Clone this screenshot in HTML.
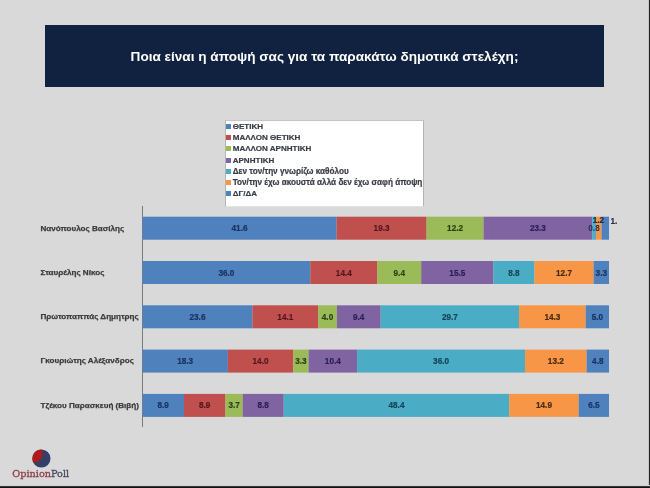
<!DOCTYPE html>
<html><head><meta charset="utf-8"><style>
*{margin:0;padding:0;box-sizing:border-box}
html,body{width:650px;height:488px;overflow:hidden;background:#D9D9D9}
body{position:relative;will-change:transform;font-family:"Liberation Sans","Noto Sans CJK SC",sans-serif}
.title{position:absolute;left:45px;top:25px;width:559px;height:62px;background:#10223F}
.title span{position:absolute;left:0;right:0;top:0;text-align:center;color:#fff;font-weight:bold;font-size:13.58px;line-height:15px;top:23.6px;white-space:nowrap}
.legend{position:absolute;left:225px;top:120px;width:199px;height:87px;background:#fff;border:1px solid #B4B4B4;border-bottom-color:#E4E4E4;border-top-color:#C4C4C4}
.li{position:absolute;left:0;height:11px;font-size:8.05px;font-weight:bold;color:#383C46;-webkit-text-stroke:0.2px #383C46;white-space:nowrap;line-height:11px}
.li i{position:absolute;left:0;top:3.1px;width:5px;height:5px}
.li span{position:absolute;left:6.7px;top:0}
.axis{position:absolute;left:142px;top:206px;width:1px;height:221px;background:#7A7A7A}
.cat{position:absolute;left:40.5px;font-size:8.1px;font-weight:bold;color:#3A3A3A;white-space:nowrap;line-height:10px;-webkit-text-stroke:0.25px #3A3A3A}
.bar{position:absolute;left:0;top:0;width:650px;height:488px;overflow:visible}
.v{position:absolute;font-size:8.2px;font-weight:bold;white-space:nowrap;line-height:10px;text-align:center}
.logo{position:absolute;left:32px;top:448.8px;width:19px;height:19px}
.brand{position:absolute;left:12.3px;top:467.5px;font-family:"DejaVu Serif",serif;font-size:9.7px;line-height:12px;white-space:nowrap}
.bot{position:absolute;left:0;top:485px;width:650px;height:3px;background:linear-gradient(#D4D4D4 0 1px,#383838 1px 2px,#141414 2px 3px)}
.rt{position:absolute;left:648px;top:0;width:2px;height:486px;background:linear-gradient(90deg,#C4C4C4 0 1px,#262626 1px 2px)}
</style></head><body>
<div class="title"><span>Ποια είναι η άποψή σας για τα παρακάτω δημοτικά στελέχη;</span></div>
<div class="legend">
<div class="li" style="top:-0.40px"><i style="background:#4F81BD"></i><span>ΘΕΤΙΚΗ</span></div>
<div class="li" style="top:10.90px"><i style="background:#C0504D"></i><span>ΜΑΛΛΟΝ ΘΕΤΙΚΗ</span></div>
<div class="li" style="top:22.20px"><i style="background:#9BBB59"></i><span>ΜΑΛΛΟΝ ΑΡΝΗΤΙΚΗ</span></div>
<div class="li" style="top:33.50px"><i style="background:#8064A2"></i><span>ΑΡΝΗΤΙΚΗ</span></div>
<div class="li" style="top:44.80px;font-size:8.18px"><i style="background:#4BACC6"></i><span>Δεν τον/την γνωρίζω καθόλου</span></div>
<div class="li" style="top:56.10px;font-size:8.18px"><i style="background:#F79646"></i><span>Τον/την έχω ακουστά αλλά δεν έχω σαφή άποψη</span></div>
<div class="li" style="top:67.40px"><i style="background:#4F81BD"></i><span>ΔΓ/ΔΑ</span></div>
</div>
<div class="axis"></div>
<div class="cat" style="top:223.90px">Νανόπουλος Βασίλης</div>
<svg class="bar" width="650" height="488" viewBox="0 0 650 488">
<rect x="142.50" y="216.70" width="194.08" height="23.0" fill="#4F81BD"/>
<rect x="336.56" y="216.70" width="90.05" height="23.0" fill="#C0504D"/>
<rect x="426.60" y="216.70" width="56.93" height="23.0" fill="#9BBB59"/>
<rect x="483.51" y="216.70" width="108.71" height="23.0" fill="#8064A2"/>
<rect x="592.21" y="216.70" width="3.75" height="23.0" fill="#4BACC6"/>
<rect x="595.94" y="216.70" width="5.62" height="23.0" fill="#F79646"/>
<rect x="601.54" y="216.70" width="7.48" height="23.0" fill="#4F81BD"/>
</svg>
<div class="v" style="left:224.53px;width:30px;top:224.36px;color:#1A3360;-webkit-text-stroke:0.2px #1A3360">41.6</div>
<div class="v" style="left:366.58px;width:30px;top:224.36px;color:#521820;-webkit-text-stroke:0.2px #521820">19.3</div>
<div class="v" style="left:440.06px;width:30px;top:224.36px;color:#2D4015;-webkit-text-stroke:0.2px #2D4015">12.2</div>
<div class="v" style="left:522.86px;width:30px;top:224.36px;color:#2B1E55;-webkit-text-stroke:0.2px #2B1E55">23.3</div>
<div class="cat" style="top:268.05px">Σταυρέλης Νίκος</div>
<svg class="bar" width="650" height="488" viewBox="0 0 650 488">
<rect x="142.50" y="261.00" width="167.79" height="23.0" fill="#4F81BD"/>
<rect x="310.27" y="261.00" width="67.13" height="23.0" fill="#C0504D"/>
<rect x="377.38" y="261.00" width="43.83" height="23.0" fill="#9BBB59"/>
<rect x="421.19" y="261.00" width="72.26" height="23.0" fill="#8064A2"/>
<rect x="493.42" y="261.00" width="41.03" height="23.0" fill="#4BACC6"/>
<rect x="534.43" y="261.00" width="59.21" height="23.0" fill="#F79646"/>
<rect x="593.62" y="261.00" width="15.40" height="23.0" fill="#4F81BD"/>
</svg>
<div class="v" style="left:211.39px;width:30px;top:268.51px;color:#1A3360;-webkit-text-stroke:0.2px #1A3360">36.0</div>
<div class="v" style="left:328.83px;width:30px;top:268.51px;color:#521820;-webkit-text-stroke:0.2px #521820">14.4</div>
<div class="v" style="left:384.28px;width:30px;top:268.51px;color:#2D4015;-webkit-text-stroke:0.2px #2D4015">9.4</div>
<div class="v" style="left:442.31px;width:30px;top:268.51px;color:#2B1E55;-webkit-text-stroke:0.2px #2B1E55">15.5</div>
<div class="v" style="left:498.93px;width:30px;top:268.51px;color:#164558;-webkit-text-stroke:0.2px #164558">8.8</div>
<div class="v" style="left:549.03px;width:30px;top:268.51px;color:#4A2A10;-webkit-text-stroke:0.2px #4A2A10">12.7</div>
<div class="v" style="left:586.31px;width:30px;top:268.51px;color:#1A3360;-webkit-text-stroke:0.2px #1A3360">3.3</div>
<div class="cat" style="top:312.20px">Πρωτοπαππάς Δημητρης</div>
<svg class="bar" width="650" height="488" viewBox="0 0 650 488">
<rect x="142.50" y="305.30" width="110.00" height="23.0" fill="#4F81BD"/>
<rect x="252.48" y="305.30" width="65.73" height="23.0" fill="#C0504D"/>
<rect x="318.19" y="305.30" width="18.66" height="23.0" fill="#9BBB59"/>
<rect x="336.84" y="305.30" width="43.83" height="23.0" fill="#8064A2"/>
<rect x="380.64" y="305.30" width="138.43" height="23.0" fill="#4BACC6"/>
<rect x="519.06" y="305.30" width="66.66" height="23.0" fill="#F79646"/>
<rect x="585.70" y="305.30" width="23.32" height="23.0" fill="#4F81BD"/>
</svg>
<div class="v" style="left:182.49px;width:30px;top:312.66px;color:#1A3360;-webkit-text-stroke:0.2px #1A3360">23.6</div>
<div class="v" style="left:270.34px;width:30px;top:312.66px;color:#521820;-webkit-text-stroke:0.2px #521820">14.1</div>
<div class="v" style="left:312.52px;width:30px;top:312.66px;color:#2D4015;-webkit-text-stroke:0.2px #2D4015">4.0</div>
<div class="v" style="left:343.74px;width:30px;top:312.66px;color:#2B1E55;-webkit-text-stroke:0.2px #2B1E55">9.4</div>
<div class="v" style="left:434.85px;width:30px;top:312.66px;color:#164558;-webkit-text-stroke:0.2px #164558">29.7</div>
<div class="v" style="left:537.38px;width:30px;top:312.66px;color:#4A2A10;-webkit-text-stroke:0.2px #4A2A10">14.3</div>
<div class="v" style="left:582.35px;width:30px;top:312.66px;color:#1A3360;-webkit-text-stroke:0.2px #1A3360">5.0</div>
<div class="cat" style="top:356.35px">Γκουριώτης Αλέξανδρος</div>
<svg class="bar" width="650" height="488" viewBox="0 0 650 488">
<rect x="142.50" y="349.60" width="85.39" height="23.0" fill="#4F81BD"/>
<rect x="227.87" y="349.60" width="65.33" height="23.0" fill="#C0504D"/>
<rect x="293.18" y="349.60" width="15.41" height="23.0" fill="#9BBB59"/>
<rect x="308.57" y="349.60" width="48.54" height="23.0" fill="#8064A2"/>
<rect x="357.09" y="349.60" width="167.96" height="23.0" fill="#4BACC6"/>
<rect x="525.03" y="349.60" width="61.60" height="23.0" fill="#F79646"/>
<rect x="586.61" y="349.60" width="22.41" height="23.0" fill="#4F81BD"/>
</svg>
<div class="v" style="left:170.18px;width:30px;top:356.81px;color:#1A3360;-webkit-text-stroke:0.2px #1A3360">18.3</div>
<div class="v" style="left:245.52px;width:30px;top:356.81px;color:#521820;-webkit-text-stroke:0.2px #521820">14.0</div>
<div class="v" style="left:285.88px;width:30px;top:356.81px;color:#2D4015;-webkit-text-stroke:0.2px #2D4015">3.3</div>
<div class="v" style="left:317.83px;width:30px;top:356.81px;color:#2B1E55;-webkit-text-stroke:0.2px #2B1E55">10.4</div>
<div class="v" style="left:426.06px;width:30px;top:356.81px;color:#164558;-webkit-text-stroke:0.2px #164558">36.0</div>
<div class="v" style="left:540.82px;width:30px;top:356.81px;color:#4A2A10;-webkit-text-stroke:0.2px #4A2A10">13.2</div>
<div class="v" style="left:582.80px;width:30px;top:356.81px;color:#1A3360;-webkit-text-stroke:0.2px #1A3360">4.8</div>
<div class="cat" style="top:400.50px">Τζέκου Παρασκευή (Βιβή)</div>
<svg class="bar" width="650" height="488" viewBox="0 0 650 488">
<rect x="142.50" y="393.90" width="41.50" height="23.0" fill="#4F81BD"/>
<rect x="183.98" y="393.90" width="41.50" height="23.0" fill="#C0504D"/>
<rect x="225.45" y="393.90" width="17.26" height="23.0" fill="#9BBB59"/>
<rect x="242.70" y="393.90" width="41.03" height="23.0" fill="#8064A2"/>
<rect x="283.71" y="393.90" width="225.58" height="23.0" fill="#4BACC6"/>
<rect x="509.27" y="393.90" width="69.46" height="23.0" fill="#F79646"/>
<rect x="578.71" y="393.90" width="30.31" height="23.0" fill="#4F81BD"/>
</svg>
<div class="v" style="left:148.24px;width:30px;top:400.96px;color:#1A3360;-webkit-text-stroke:0.2px #1A3360">8.9</div>
<div class="v" style="left:189.72px;width:30px;top:400.96px;color:#521820;-webkit-text-stroke:0.2px #521820">8.9</div>
<div class="v" style="left:219.08px;width:30px;top:400.96px;color:#2D4015;-webkit-text-stroke:0.2px #2D4015">3.7</div>
<div class="v" style="left:248.20px;width:30px;top:400.96px;color:#2B1E55;-webkit-text-stroke:0.2px #2B1E55">8.8</div>
<div class="v" style="left:381.49px;width:30px;top:400.96px;color:#164558;-webkit-text-stroke:0.2px #164558">48.4</div>
<div class="v" style="left:528.99px;width:30px;top:400.96px;color:#4A2A10;-webkit-text-stroke:0.2px #4A2A10">14.9</div>
<div class="v" style="left:578.85px;width:30px;top:400.96px;color:#1A3360;-webkit-text-stroke:0.2px #1A3360">6.5</div>
<div class="v" style="left:579px;width:30px;top:224.2px;color:#1F2B50">0.8</div>
<div class="v" style="left:583.4px;width:30px;top:216.2px;color:#1F2B40;-webkit-text-stroke:0.2px #1F2B40">1.2</div>
<div class="v" style="left:610.5px;width:6px;top:216.5px;color:#2A3040;-webkit-text-stroke:0.2px #2A3040;overflow:hidden;text-align:left">1.6</div>
<svg class="logo" viewBox="0 0 19 19"><circle cx="9.4" cy="9.5" r="9.1" fill="#34406A"/><path d="M9.5 0.4 C11.8 5 10.8 12 1.6 13.9 A9.1 9.1 0 0 1 9.5 0.4 Z" fill="#B01A1A"/></svg>
<div class="brand"><span style="color:#8E3E46;-webkit-text-stroke:0.3px #8E3E46">Opinion</span><span style="color:#474D64;-webkit-text-stroke:0.3px #474D64">Poll</span></div>
<div class="rt"></div>
<div class="bot"></div>
</body></html>
